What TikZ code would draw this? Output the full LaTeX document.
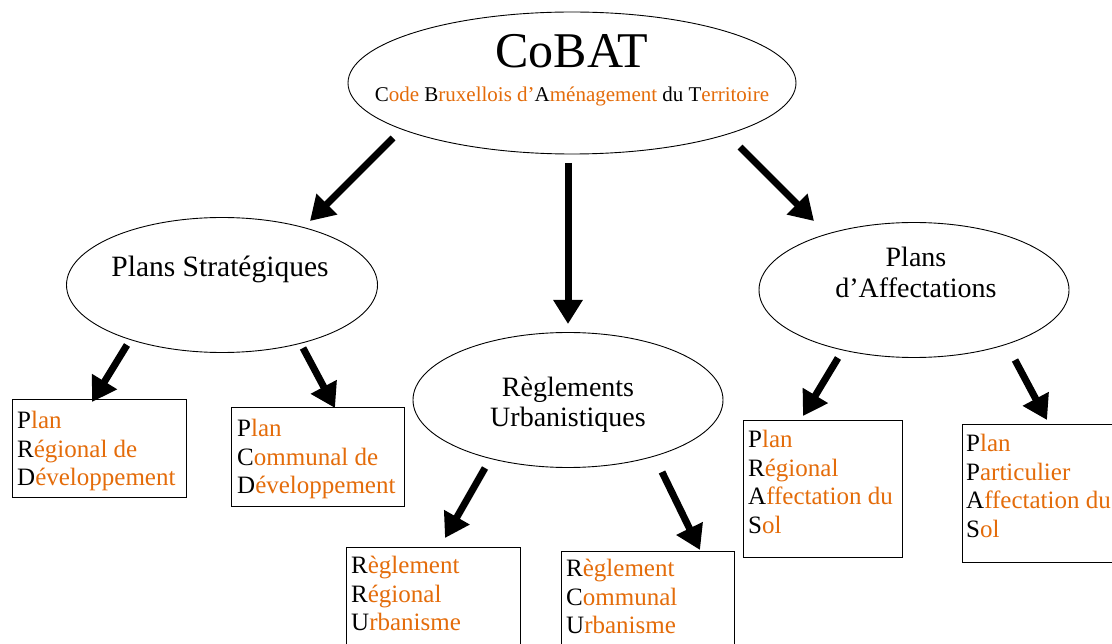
\documentclass[tikz,border=0pt]{standalone}
\usepackage{fontspec}
\setmainfont{Liberation Serif}
\usetikzlibrary{arrows.meta,shapes.geometric}
\definecolor{orng}{RGB}{228,108,10}
\newcommand{\Kc}[1]{\textcolor{black}{#1}}
\newcommand{\Oc}[1]{\textcolor{orng}{#1}}
\begin{document}
\begin{tikzpicture}[x=1pt,y=-1pt,
  ell/.style={draw, ellipse, line width=0.9pt, inner sep=0pt},
  box/.style={draw, line width=1pt},
  etext/.style={anchor=base, inner sep=0pt, font=\fontsize{28}{31}\selectfont},
  btext/.style={anchor=north west, inner sep=0pt, align=left, text=orng,
                font=\fontsize{25}{28.6}\selectfont},
  bigarrow/.style={line width=7pt, -{Triangle[length=24pt,width=28pt]}}]
\useasboundingbox (0,0) rectangle (1112,644);
\clip (0,0) rectangle (1112,644);
\fill[white] (0,0) rectangle (1112,644);

% ellipses
\node[ell, minimum width=448pt, minimum height=142pt] (cobat) at (572,83) {};
\node[anchor=base, inner sep=0pt, font=\fontsize{50}{50}\selectfont] (cobatt) at (572,68) {CoBAT};
\node[anchor=base, inner sep=0pt, font=\fontsize{21}{21}\selectfont] (cobats) at (572,102)
  {\Kc{C}\Oc{ode }\Kc{B}\Oc{ruxellois d’}\Kc{A}\Oc{ménagement }\Kc{du T}\Oc{erritoire}};

\node[ell, minimum width=311pt, minimum height=135pt] (ps) at (222,285) {};
\node[etext, font=\fontsize{29.5}{31}\selectfont] (pst) at (220,277) {Plans Stratégiques};

\node[ell, minimum width=310pt, minimum height=135pt] (ru) at (568,400) {};
\node[etext] (rut1) at (568,397) {Règlements};
\node[etext] (rut2) at (568,427) {Urbanistiques};

\node[ell, minimum width=310pt, minimum height=135pt] (pa) at (914,290) {};
\node[etext] (pat1) at (916,267) {Plans};
\node[etext] (pat2) at (916,298) {d’Affectations};

% boxes
\draw[box] (12,400) rectangle (186,497);
\coordinate (prd) at (99,400);
\node[btext] (prdt) at (17,411) {\Kc{P}lan\\\Kc{R}égional de\\\Kc{D}éveloppement};

\draw[box] (231,408) rectangle (404,506);
\coordinate (pcd) at (317,408);
\node[btext] (pcdt) at (237,419) {\Kc{P}lan\\\Kc{C}ommunal de\\\Kc{D}éveloppement};

\draw[box] (346,547) rectangle (520,660);
\coordinate (rru) at (433,547);
\node[btext] (rrut) at (351,556) {\Kc{R}èglement\\\Kc{R}égional\\\Kc{U}rbanisme};

\draw[box] (561,551) rectangle (734,660);
\coordinate (rcu) at (647,551);
\node[btext] (rcut) at (566,559) {\Kc{R}èglement\\\Kc{C}ommunal\\\Kc{U}rbanisme};

\draw[box] (743,421) rectangle (902,557);
\coordinate (pras) at (822,421);
\node[btext] (prast) at (748,430) {\Kc{P}lan\\\Kc{R}égional\\\Kc{A}ffectation du\\\Kc{S}ol};

\draw[box] (962,425) rectangle (1130,562);
\coordinate (ppas) at (1046,425);
\node[btext] (ppast) at (966,434) {\Kc{P}lan\\\Kc{P}articulier\\\Kc{A}ffectation du\\\Kc{S}ol};

% arrow end points
\coordinate (a1s) at (393,138); \coordinate (a1e) at (310,221);
\coordinate (a2s) at (568,163); \coordinate (a2e) at (568,324);
\coordinate (a3s) at (740,147); \coordinate (a3e) at (814,221);
\coordinate (a4s) at (127,345); \coordinate (a4e) at (92,402);
\coordinate (a5s) at (303,348); \coordinate (a5e) at (335,408);
\coordinate (a6s) at (485,468); \coordinate (a6e) at (445,538);
\coordinate (a7s) at (662,472); \coordinate (a7e) at (700,550);
\coordinate (a8s) at (838,358); \coordinate (a8e) at (803,416);
\coordinate (a9s) at (1015,360); \coordinate (a9e) at (1047,420);

\draw[bigarrow] (a1s) -- (a1e);
\draw[bigarrow] (a2s) -- (a2e);
\draw[bigarrow] (a3s) -- (a3e);
\draw[bigarrow] (a4s) -- (a4e);
\draw[bigarrow] (a5s) -- (a5e);
\draw[bigarrow] (a6s) -- (a6e);
\draw[bigarrow] (a7s) -- (a7e);
\draw[bigarrow] (a8s) -- (a8e);
\draw[bigarrow] (a9s) -- (a9e);
\end{tikzpicture}
\end{document}
